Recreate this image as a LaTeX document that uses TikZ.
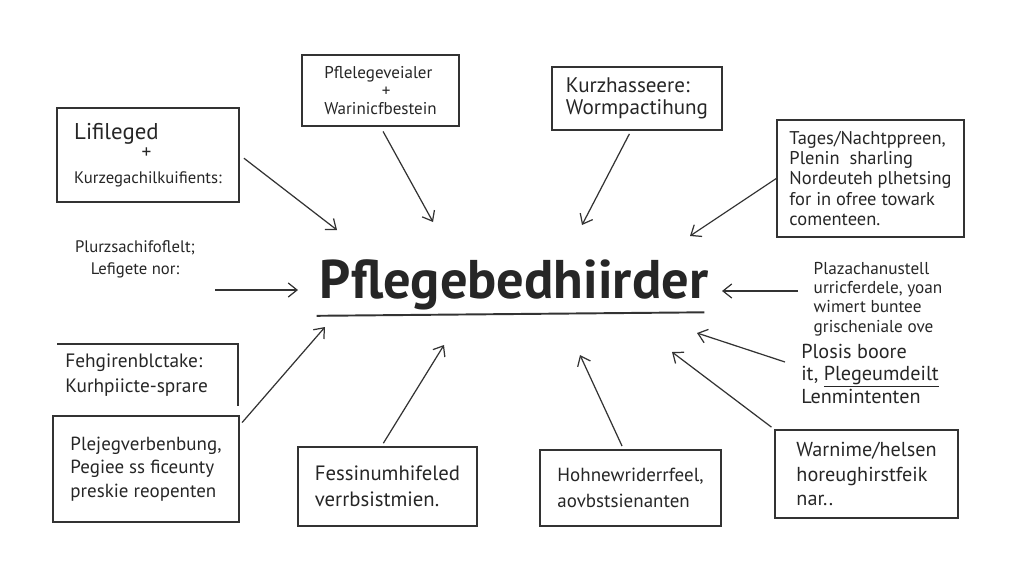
\documentclass[tikz,border=0pt]{standalone}
\usepackage{fontspec}
\setmainfont{PT Sans}
\usetikzlibrary{arrows.meta,positioning}

\begin{document}
\begin{tikzpicture}[x=0.02cm,y=-0.02cm,
    every node/.style={font=\fontsize{11}{13}\selectfont,text=black!85},
    note/.style={rectangle,draw=black!80,line width=0.9pt,align=left,inner sep=0pt},
    plain/.style={align=left,inner sep=0pt},
    frame/.style={draw=black!80,line width=0.9pt},
    arrow/.style={-{Straight Barb[length=5pt,width=8pt]},line width=0.7pt,color=black!80}
]
\useasboundingbox (0,0) rectangle (1024,585);

% Central topic
\node[inner sep=0pt,font=\fontsize{31}{33}\selectfont\bfseries] (title) at (514,285) {Pflegebedhiirder};
\draw[line width=1.1pt,black!80] ([xshift=-0.06cm,yshift=-3pt]title.south west) -- ([xshift=-0.08cm,yshift=-1pt]title.south east);

% Upper boxes
\node[note,minimum width=3.64cm,minimum height=1.88cm] (lifi) at (148,155)
    {{\fontsize{13}{15}\selectfont Lifileged}\\[-2pt]\hspace{1.35cm}+\\[1pt]{\fontsize{9.5}{11}\selectfont Kurzegachilkuifients:}};
\node[note,minimum width=3.14cm,minimum height=1.42cm,font=\fontsize{9.7}{10}\selectfont] (pfle) at (380.5,90.5)
    {Pflelegeveialer\\\hspace{1.15cm}+\\Warinicfbestein};
\node[note,minimum width=3.4cm,minimum height=1.26cm,font=\fontsize{12}{12.5}\selectfont] (kurz) at (637,98.5)
    {Kurzhasseere:\\Wormpactihung};
\node[note,minimum width=3.74cm,minimum height=2.34cm,font=\fontsize{10.5}{11.5}\selectfont] (tages) at (870.5,178.5)
    {Tages/Nachtppreen,\\Plenin\ \ sharling\\Nordeuteh plhetsing\\for in ofree towark\\comenteen.};

% Side notes
\node[plain,align=center,font=\fontsize{9.5}{12.5}\selectfont] (plurz) at (135,259)
    {Plurzsachifoflelt;\\Lefigete nor:};
\node[plain,font=\fontsize{9.8}{11}\selectfont] (plaza) at (878,299)
    {Plazachanustell\\urricferdele, yoan\\wimert buntee\\grischeniale ove};
\node[plain,font=\fontsize{11.5}{12.5}\selectfont] (plosis) at (870,374)
    {Plosis boore\\it, \underline{Plegeumdeilt}\\Lenmintenten};

% Lower boxes
\node[plain,anchor=west,font=\fontsize{11}{14.5}\selectfont] (fehg) at (65,375)
    {Fehgirenblctake:\\Kurhpiicte-sprare};
\draw[frame] (57,344) -- (238,344) -- (238,406);
\node[note,minimum width=3.72cm,minimum height=2.12cm,font=\fontsize{10.8}{13.3}\selectfont] (pleje) at (146,469)
    {Plejegverbenbung,\\Pegiee ss ficeunty\\preskie reopenten};
\node[note,minimum width=3.58cm,minimum height=1.58cm,font=\fontsize{11.8}{15}\selectfont] (fess) at (387.5,486.5)
    {Fessinumhifeled\\verrbsistmien.};
\node[note,minimum width=3.62cm,minimum height=1.52cm,font=\fontsize{10.8}{14.5}\selectfont] (hohne) at (630.5,488)
    {Hohnewriderrfeel,\\aovbstsienanten};
\node[note,minimum width=3.66cm,minimum height=1.76cm,font=\fontsize{11.5}{14}\selectfont] (warn) at (866.5,474)
    {Warnime/helsen\\horeughirstfeik\\nar..};

% Arrow ends around the topic
\coordinate (tip1) at (337,230);
\coordinate (tip2) at (433,222);
\coordinate (tip3) at (582,225);
\coordinate (tip4) at (690,236);
\coordinate (src5) at (215,290);
\coordinate (tip5) at (298,290);
\coordinate (src7) at (798,291);
\coordinate (tip7) at (722,291);
\coordinate (src8) at (785,362);
\coordinate (tip8) at (697,333);
\coordinate (tip9) at (672,352);
\coordinate (tip10) at (580,355);
\coordinate (tip11) at (444,345);
\coordinate (tip12) at (325,327);

% Connections
\draw[arrow,shorten <=3pt] (lifi.east) -- (tip1);
\draw[arrow,shorten <=3pt] (pfle.south) -- (tip2);
\draw[arrow,shorten <=2pt] ([xshift=-0.12cm]kurz.south) -- (tip3);
\draw[arrow] (tages.west) -- (tip4);
\draw[arrow] (src5) -- (tip5);
\draw[arrow] (src7) -- (tip7);
\draw[arrow] (src8) -- (tip8);
\draw[arrow,shorten <=2pt] (warn.north west) -- (tip9);
\draw[arrow,shorten <=2pt] ([xshift=-0.14cm]hohne.north) -- (tip10);
\draw[arrow,shorten <=2pt] ([xshift=-0.12cm]fess.north) -- (tip11);
\draw[arrow,shorten <=2pt] ([yshift=-0.2cm]pleje.north east) -- (tip12);

\end{tikzpicture}
\end{document}
